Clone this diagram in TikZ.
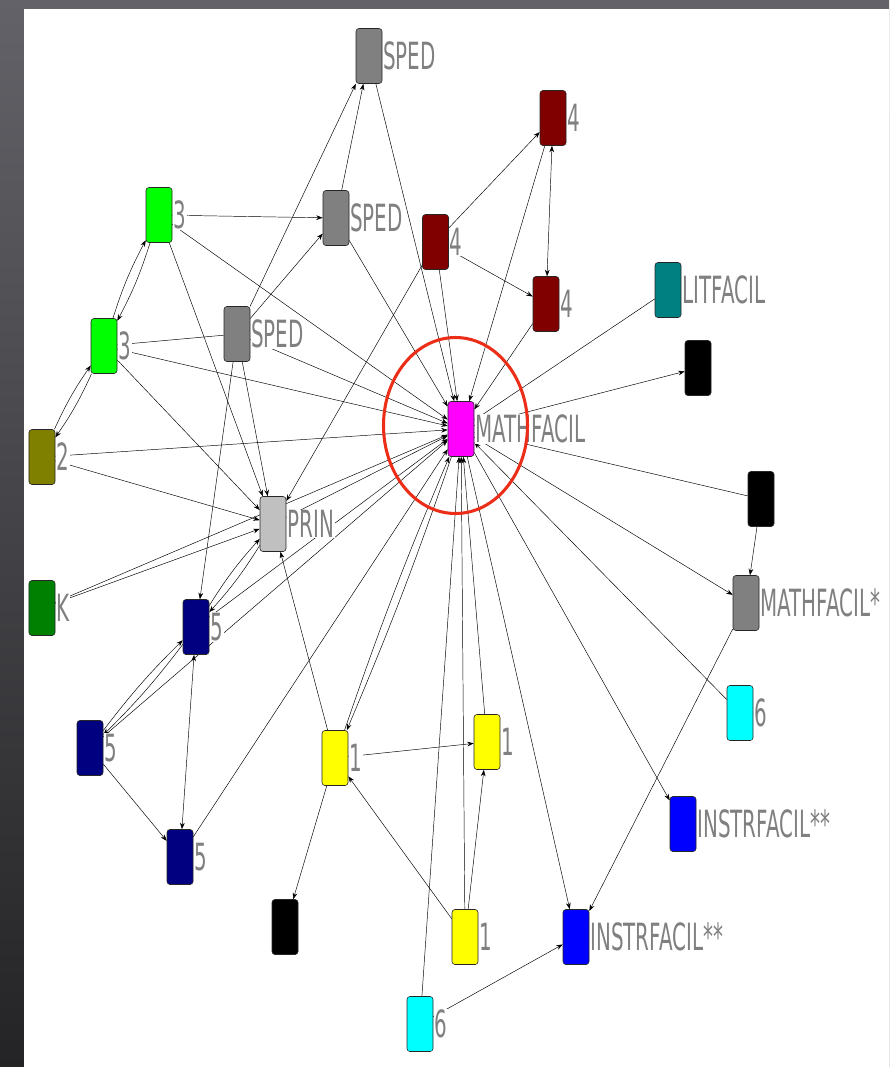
\documentclass[tikz,border=0pt]{standalone}
\usepackage{fontspec}
\usetikzlibrary{backgrounds,arrows.meta}
\newfontfamily\lblfont[FakeStretch=0.53]{DejaVu Sans}
\definecolor{cGray}{RGB}{128,128,128}
\definecolor{cMaroon}{RGB}{128,0,0}
\definecolor{cLime}{RGB}{0,255,0}
\definecolor{cTeal}{RGB}{0,128,128}
\definecolor{cMagenta}{RGB}{255,0,255}
\definecolor{cOlive}{RGB}{128,128,0}
\definecolor{cSilver}{RGB}{192,192,192}
\definecolor{cGreen}{RGB}{0,128,0}
\definecolor{cNavy}{RGB}{0,0,128}
\definecolor{cCyan}{RGB}{0,255,255}
\definecolor{cYellow}{RGB}{255,255,0}
\definecolor{cBlue}{RGB}{0,0,255}
\definecolor{cText}{RGB}{128,128,128}
\definecolor{cRing}{RGB}{236,46,24}
\definecolor{frameTop}{RGB}{98,98,104}
\definecolor{frameBot}{RGB}{36,36,38}
\tikzset{
  box/.style={draw=black!85, rounded corners=2.5pt, minimum width=0.78cm,
    minimum height=1.65cm, inner sep=0pt, line width=0.5pt},
  lbl/.style={anchor=west, text=cText, fill=white, inner sep=0.6pt,
    font=\lblfont\fontsize{32}{32}\selectfont},
  ring/.style={draw=cRing, line width=2.6pt}
}
\begin{document}
\begin{tikzpicture}[>={Stealth[length=5.5pt,width=4pt]}, x=0.03cm, y=-0.03cm, line width=0.6pt]
	\useasboundingbox (0,0) rectangle (889,1067);
	%Nut SPED
	\node[box, fill=cGray] (spedT) at (369,56) {};
	\node[lbl] (spedTl) at (spedT.east) {SPED};
	\node[box, fill=cGray] (spedM) at (336,218) {};
	\node[lbl] (spedMl) at (spedM.east) {SPED};
	\node[box, fill=cGray] (spedL) at (237,334) {};
	\node[lbl] (spedLl) at (spedL.east) {SPED};
	%Nut 4
	\node[box, fill=cMaroon] (drT) at (553,118) {};
	\node[lbl] (drTl) at (drT.east) {4};
	\node[box, fill=cMaroon] (drM) at (435.5,242) {};
	\node[lbl] (drMl) at (drM.east) {4};
	\node[box, fill=cMaroon] (drL) at (546,304) {};
	\node[lbl] (drLl) at (drL.east) {4};
	%Nut 3, 2, K
	\node[box, fill=cLime] (grT) at (159,215) {};
	\node[lbl] (grTl) at (grT.east) {3};
	\node[box, fill=cLime] (grL) at (104,346) {};
	\node[lbl] (grLl) at (grL.east) {3};
	\node[box, fill=cOlive] (olv) at (42,457) {};
	\node[lbl] (olvl) at (olv.east) {2};
	\node[box, fill=cGreen] (kk) at (42,608) {};
	\node[lbl] (kkl) at (kk.east) {K};
	%Nut giua
	\node[box, fill=cMagenta] (math) at (461,429) {};
	\node[lbl] (mathl) at (math.east) {MATHFACIL};
	\node[box, fill=cSilver] (prin) at (273,524) {};
	\node[lbl] (prinl) at (prin.east) {PRIN};
	%Nut phai
	\node[box, fill=cTeal] (lit) at (668,290) {};
	\node[lbl] (litl) at (lit.east) {LITFACIL};
	\node[box, fill=black] (blkA) at (698,368) {};
	\node[box, fill=black] (blkB) at (761,499) {};
	\node[box, fill=cGray] (mathS) at (746,603) {};
	\node[lbl] (mathSl) at (mathS.east) {MATHFACIL*};
	\node[box, fill=cCyan] (cyR) at (740,713) {};
	\node[lbl] (cyRl) at (cyR.east) {6};
	\node[box, fill=cBlue] (insU) at (683,824) {};
	\node[lbl] (insUl) at (insU.east) {INSTRFACIL**};
	%Nut 5
	\node[box, fill=cNavy] (nvU) at (196,627) {};
	\node[lbl] (nvUl) at (nvU.east) {5};
	\node[box, fill=cNavy] (nvL) at (90,748) {};
	\node[lbl] (nvLl) at (nvL.east) {5};
	\node[box, fill=cNavy] (nvB) at (180,857) {};
	\node[lbl] (nvBl) at (nvB.east) {5};
	%Nut 1, 6 duoi
	\node[box, fill=cYellow] (ylL) at (335,758) {};
	\node[lbl] (ylLl) at (ylL.east) {1};
	\node[box, fill=cYellow] (ylR) at (487,742) {};
	\node[lbl] (ylRl) at (ylR.east) {1};
	\node[box, fill=cYellow] (ylB) at (465,937) {};
	\node[lbl] (ylBl) at (ylB.east) {1};
	\node[box, fill=black] (blkC) at (285,927) {};
	\node[box, fill=cBlue] (insL) at (576,937) {};
	\node[lbl] (insLl) at (insL.east) {INSTRFACIL**};
	\node[box, fill=cCyan] (cyB) at (420,1024) {};
	\node[lbl] (cyBl) at (cyB.east) {6};
	%Vong tron
	\draw[ring] (455.5,425.5) ellipse [x radius=2.16cm, y radius=2.64cm];
	\begin{pgfonlayer}{background}
	%Khung
	\shade[top color=frameTop, bottom color=frameBot] (0,0) rectangle (889,1067);
	\fill[white] (24,9) rectangle (889,1067);
	%Mui ten trai
	\draw[->] (grT)--(spedM);
	\draw[->] (grT)--(math);
	\draw[->] (grT)--(prin);
	\draw[->] (grT) to[bend left=5] (grL);
	\draw[->] (grL) to[bend left=5] (grT);
	\draw[->] (grL) to[bend left=5] (olv);
	\draw[->] (olv) to[bend left=5] (grL);
	\draw[->] (spedL)--(grL);
	\draw[->] (grL)--(math);
	\draw[->] (grL)--(prin);
	\draw[->] (olv)--(math);
	\draw[->] (olv)--(prin);
	\draw[->] (kk)--(prin);
	\draw[->] (kk)--(math);
	%Mui ten SPED
	\draw[->] (spedL)--(spedT);
	\draw[->] (spedL)--(spedM);
	\draw[->] (spedL)--(nvU);
	\draw[->] (spedL)--(prin);
	\draw[->] (spedL)--(math);
	\draw[->] (spedM)--(spedT);
	\draw[->] (spedM)--(math);
	\draw[->] (spedT)--(math);
	%Mui ten 4
	\draw[->] (drM)--(drT);
	\draw[->] (drM)--(drL);
	\draw[<->] (drT)--(drL);
	\draw[->] (drT)--(math);
	\draw[->] (drM)--(math);
	\draw[->] (drL)--(math);
	\draw[->] (drM)--(prin);
	%Mui ten phai
	\draw[->] (lit)--(math);
	\draw[->] (math)--(blkA);
	\draw[->] (blkB)--(math);
	\draw[->] (blkB)--(mathS);
	\draw[->] (math)--(mathS);
	\draw[->] (cyR)--(math);
	\draw[->] (math)--(insU);
	\draw[->] (mathS)--(insL);
	\draw[->] (math)--(insL);
	%Mui ten duoi
	\draw[->] (cyB)--(insL);
	\draw[->] (cyB)--(math);
	\draw[->] (ylB)--(math);
	\draw[->] (ylB)--(ylR);
	\draw[->] (ylB)--(ylL);
	\draw[->] (ylL)--(ylR);
	\draw[->] (ylL)--(blkC);
	\draw[->] (ylL) to[bend left=2] (math);
	\draw[->] (math) to[bend left=2] (ylL);
	\draw[->] (ylL)--(prin);
	\draw[->] (ylR)--(math);
	\draw[->] (prin)--(math);
	%Mui ten 5
	\draw[->] (nvB)--(math);
	\draw[->] (nvU)--(math);
	\draw[->] (nvL)--(math);
	\draw[->] (nvU) to[bend left=5] (prin);
	\draw[->] (prin) to[bend left=5] (nvU);
	\draw[->] (nvL) to[bend left=4] (nvU);
	\draw[->] (nvU) to[bend left=4] (nvL);
	\draw[<->] (nvU)--(nvB);
	\draw[->] (nvL)--(nvB);
	\end{pgfonlayer}
\end{tikzpicture}
\end{document}
